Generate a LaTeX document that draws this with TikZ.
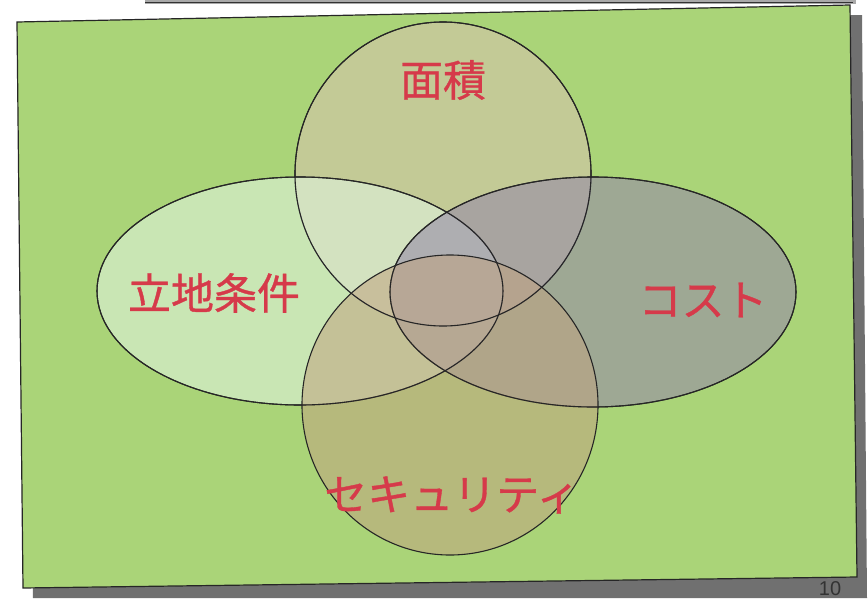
\documentclass[tikz,border=0pt]{standalone}
\usepackage{fontspec}
\newfontfamily\jpfont[FakeBold=0.8]{Noto Sans CJK JP}
\setsansfont{Liberation Sans}
\usetikzlibrary{shapes.geometric}
\definecolor{bggreen}{RGB}{170,212,120}
\definecolor{fillleft}{RGB}{222,242,220}
\definecolor{filltop}{RGB}{212,196,170}
\definecolor{fillright}{RGB}{150,140,168}
\definecolor{fillbottom}{RGB}{192,163,128}
\definecolor{labelred}{RGB}{214,58,74}
\definecolor{shadowgray}{RGB}{112,112,112}
\tikzset{
  setoval/.style={ellipse, draw=black!85, line width=1.1pt, inner sep=0pt, fill opacity=0.6, text opacity=1},
  setlabel/.style={text=labelred, font=\jpfont\fontsize{43}{43}\selectfont, inner sep=0pt}
}
\begin{document}
\begin{tikzpicture}[x=1pt,y=-1pt]
\useasboundingbox (0,0) rectangle (868,600);
\fill[white] (0,0) rectangle (868,600);
% top box remnant
\fill[shadowgray!60] (145,-5) rectangle (856,4);
\draw[black!80, line width=1pt] (145,2) -- (853,2);
% shadow
\fill[shadowgray] (29,32) -- (862,15) -- (867,598) -- (33,598) -- cycle;
% main panel
\fill[bggreen] (17,22) -- (850,5) -- (857,577) -- (23,588) -- cycle;
\draw[black!85, line width=1.2pt] (17,22) -- (850,5) -- (857,577) -- (23,588) -- cycle;
% sets
\node[setoval, fill=filltop, minimum width=296pt, minimum height=304pt] (area) at (443,174) {};
\node[setoval, fill=fillleft, minimum width=406pt, minimum height=228pt] (loc) at (300,291) {};
\node[setoval, fill=fillright, minimum width=406pt, minimum height=230pt] (cost) at (593,292) {};
\node[setoval, fill=fillbottom, fill opacity=0.55, minimum width=296pt, minimum height=300pt] (sec) at (450,405) {};
% outlines again on top
\draw[black!85, line width=1.1pt] (443,174) ellipse [x radius=148, y radius=152];
\draw[black!85, line width=1.1pt] (300,291) ellipse [x radius=203, y radius=114];
\draw[black!85, line width=1.1pt] (593,292) ellipse [x radius=203, y radius=115];
% labels
\node[setlabel] (areaL) at (443,80) {面積};
\node[setlabel] (locL) at (214,293) {立地条件};
\node[setlabel] (costL) at (703,300) {コスト};
\node[setlabel] (secL) at (452,495) {セキュリティ};
\node[font=\sffamily\fontsize{20}{20}\selectfont, text=black!80, inner sep=0pt] (page) at (830,589) {10};
\end{tikzpicture}
\end{document}
